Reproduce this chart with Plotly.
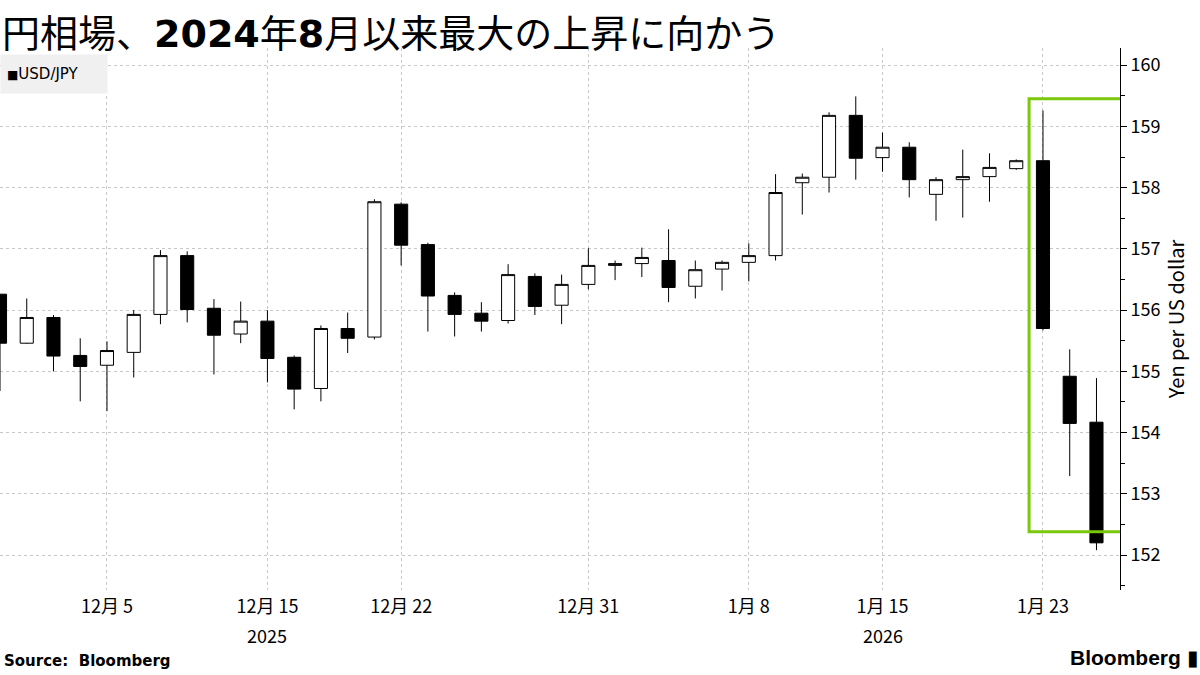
import plotly.graph_objects as go

# trading days 2025-12-01 .. 2026-01-27 (weekdays)
dates = [
    "2025-12-01", "2025-12-02", "2025-12-03", "2025-12-04", "2025-12-05",
    "2025-12-08", "2025-12-09", "2025-12-10", "2025-12-11", "2025-12-12",
    "2025-12-15", "2025-12-16", "2025-12-17", "2025-12-18", "2025-12-19",
    "2025-12-22", "2025-12-23", "2025-12-24", "2025-12-25", "2025-12-26",
    "2025-12-29", "2025-12-30", "2025-12-31", "2026-01-01", "2026-01-02",
    "2026-01-05", "2026-01-06", "2026-01-07", "2026-01-08", "2026-01-09",
    "2026-01-12", "2026-01-13", "2026-01-14", "2026-01-15", "2026-01-16",
    "2026-01-19", "2026-01-20", "2026-01-21", "2026-01-22", "2026-01-23",
    "2026-01-26", "2026-01-27",
]
open_ = [156.26, 155.46, 155.88, 155.26, 155.10, 155.31, 155.93, 156.89, 156.03, 155.61,
         155.82, 155.23, 154.72, 155.70, 155.56, 157.73, 157.07, 156.24, 155.95, 155.83,
         156.55, 156.08, 156.42, 156.73, 156.76, 156.81, 156.39, 156.67, 156.78, 156.89,
         158.08, 158.17, 159.18, 158.49, 158.66, 157.89, 158.13, 158.18, 158.31, 158.44,
         154.92, 154.17]
high = [156.26, 156.19, 155.92, 155.54, 155.49, 156.00, 156.98, 156.96, 156.18, 156.14,
        156.00, 155.26, 155.75, 155.96, 157.81, 157.76, 157.10, 156.29, 156.13, 156.75,
        156.60, 156.58, 157.01, 156.81, 157.02, 157.32, 156.81, 156.81, 157.09, 158.22,
        158.23, 159.23, 159.49, 158.90, 158.74, 158.17, 158.62, 158.56, 158.46, 159.26,
        155.36, 154.89]
low = [154.68, 155.45, 155.00, 154.51, 154.35, 154.90, 155.77, 155.80, 154.95, 155.46,
       154.82, 154.38, 154.51, 155.30, 155.52, 156.73, 155.65, 155.57, 155.65, 155.78,
       155.92, 155.77, 156.34, 156.49, 156.54, 156.13, 156.19, 156.32, 156.47, 156.81,
       157.56, 157.92, 158.13, 158.26, 157.84, 157.46, 157.51, 157.77, 158.29, 155.67,
       153.29, 152.08]
close = [155.46, 155.88, 155.25, 155.08, 155.34, 155.93, 156.89, 156.01, 155.59, 155.82,
         155.21, 154.71, 155.70, 155.54, 157.77, 157.06, 156.23, 155.93, 155.82, 156.58,
         156.06, 156.42, 156.73, 156.76, 156.86, 156.37, 156.66, 156.78, 156.89, 157.92,
         158.17, 159.18, 158.48, 158.66, 158.13, 158.13, 158.18, 158.33, 158.44, 155.70,
         154.15, 152.20]

tick_dates = ["2025-12-05", "2025-12-15", "2025-12-22", "2025-12-31",
              "2026-01-08", "2026-01-15", "2026-01-23"]
tick_text = ["12月 5", "12月 15", "12月 22", "12月 31", "1月 8", "1月 15", "1月 23"]
year_labels = {"2025-12-15": "2025", "2026-01-15": "2026"}

# highlight box price range
box_low, box_high = 152.38, 159.45

idx = list(range(len(dates)))
tick_idx = [dates.index(d) for d in tick_dates]
x_min, x_max = 0.0, 41.88

fig = go.Figure()
fig.add_trace(go.Candlestick(
    x=idx, open=open_, high=high, low=low, close=close,
    increasing=dict(line=dict(color="black", width=1), fillcolor="white"),
    decreasing=dict(line=dict(color="black", width=1), fillcolor="black"),
    whiskerwidth=0, showlegend=False, hoverinfo="skip",
))

box_x = dates.index("2026-01-23") - 0.52
fig.add_shape(type="path", xref="x", yref="y",
              path=f"M {x_max} {box_high} L {box_x} {box_high} L {box_x} {box_low} L {x_max} {box_low}",
              line=dict(color="#7ac70c", width=3))

annotations = [
    dict(text="円相場、<b><span style='font-family:DejaVu Sans'>2024</span></b>年"
              "<b><span style='font-family:DejaVu Sans'>8</span></b>月以来最大の上昇に向かう",
         xref="paper", yref="paper", x=0, y=1, xanchor="left", yanchor="top",
         showarrow=False, font=dict(size=38), yshift=47),
    dict(text="<span style='font-size:12px'>■</span>USD/JPY", xref="paper", yref="paper",
         x=0, y=1, xanchor="left", yanchor="top",
         showarrow=False, bgcolor="#f0f0f0", borderpad=6, yshift=-6,
         font=dict(size=15, family="DejaVu Sans"), width=94, height=26, align="left"),
    dict(text="<b>Source:  Bloomberg</b>", xref="paper", yref="paper", x=0, y=0,
         xanchor="left", yanchor="top", yshift=-60, xshift=2, showarrow=False,
         font=dict(size=15, family="DejaVu Sans")),
    dict(text="<b>Bloomberg</b> ▮", xref="paper", yref="paper", x=1.072, y=0,
         xanchor="right", yanchor="top", yshift=-54, showarrow=False,
         font=dict(size=21, family="Liberation Sans")),
]
for d, yr in year_labels.items():
    annotations.append(dict(text=yr, x=dates.index(d), xref="x", y=0, yref="paper",
                            yanchor="top", yshift=-30, showarrow=False, font=dict(size=18)))

fig.update_layout(
    width=1200, height=675,
    margin=dict(l=0, r=80, t=48, b=85),
    plot_bgcolor="white", paper_bgcolor="white",
    font=dict(family="Noto Sans CJK JP, DejaVu Sans", size=17, color="black"),
    xaxis=dict(range=[x_min, x_max], tickvals=tick_idx, ticktext=tick_text,
               showgrid=True, gridcolor="#c8c8c8", griddash="dot", gridwidth=1,
               rangeslider=dict(visible=False), ticks="", zeroline=False,
               tickfont=dict(size=18), ticklabelstandoff=4),
    yaxis=dict(side="right", range=[151.43, 160.28], dtick=1, tick0=152,
               showgrid=True, gridcolor="#c8c8c8", griddash="dot", gridwidth=1,
               showline=True, linecolor="black", linewidth=1,
               ticks="outside", ticklen=6, tickcolor="black",
               minor=dict(dtick=0.5, ticks="outside", ticklen=4, tickcolor="black", showgrid=False),
               zeroline=False, tickfont=dict(size=18),
               title=dict(text="Yen per US dollar", font=dict(size=20), standoff=10)),
    annotations=annotations,
)

fig.write_html("out.html", config={"displayModeBar": False},
               post_script="document.body.style.margin='0';")
